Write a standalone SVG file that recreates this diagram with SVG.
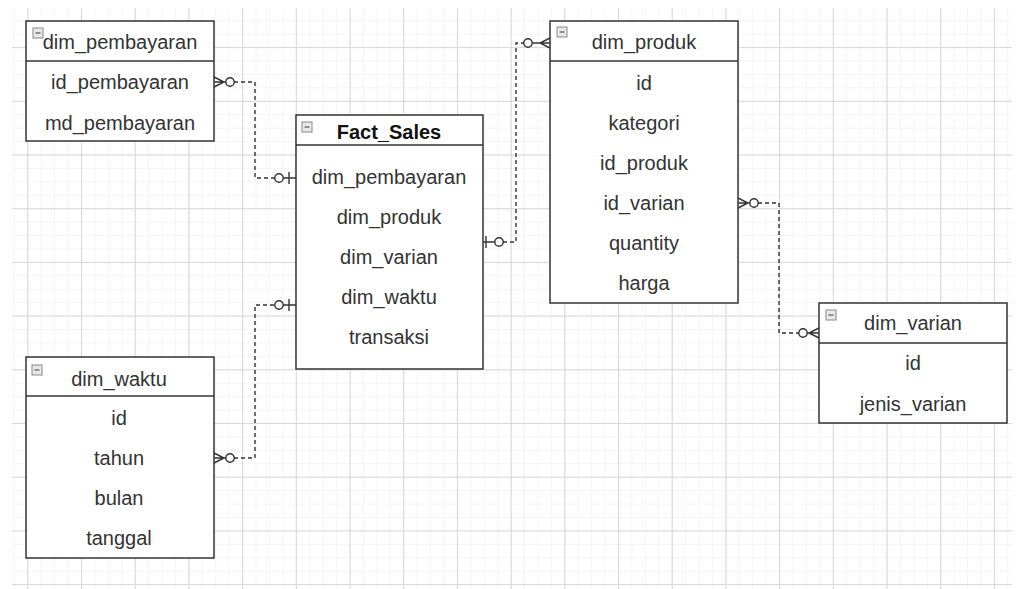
<svg xmlns="http://www.w3.org/2000/svg" width="1021" height="589" viewBox="0 0 1021 589">
<style>
.tbl{fill:#fff;stroke:#333;stroke-width:1.5}
.sep{stroke:#333;stroke-width:1.5}
.t{font-family:"Liberation Sans",Arial,sans-serif;font-size:20px;fill:#333;text-anchor:middle;dominant-baseline:central}
.b{font-weight:bold;fill:#111}
.ico{fill:#e8e8e8;stroke:#888;stroke-width:1}
.icl{stroke:#555;stroke-width:1.2}
.dash{fill:none;stroke:#333;stroke-width:1.4;stroke-dasharray:4 3}
.sym{fill:none;stroke:#333;stroke-width:1.4}
.circ{fill:#fff;stroke:#333;stroke-width:1.4}
</style>
<defs>
<pattern id="minor" patternUnits="userSpaceOnUse" x="27.3" y="47.1" width="13.425" height="13.425">
<path d="M0 0.5H13.425M0.5 0V13.425" stroke="#f4f4f4" stroke-width="1" fill="none"/>
</pattern>
<pattern id="major" patternUnits="userSpaceOnUse" x="27.3" y="47.1" width="53.7" height="53.7">
<path d="M0 0.5H53.7M0.5 0V53.7" stroke="#d8d8d8" stroke-width="1.2" fill="none"/>
</pattern>
<g id="icon"><rect class="ico" x="0" y="0" width="10" height="10"/><path class="icl" d="M2.5 5H7.5"/></g>
</defs>
<rect width="1021" height="589" fill="#fff"/>
<rect x="12" y="8" width="1000" height="581" fill="url(#minor)"/>
<rect x="12" y="8" width="1000" height="581" fill="url(#major)"/>

<g id="connectors">
<path class="dash" d="M234 82H255V178H275"/>
<path class="sym" d="M214 77L224 82L214 87M214 82H226"/>
<circle class="circ" cx="230" cy="82" r="4.2"/>
<path class="sym" d="M283 178H296M289 172V184"/>
<circle class="circ" cx="279" cy="178" r="4.2"/>
<path class="dash" d="M234 458H255V305H275"/>
<path class="sym" d="M214 453L224 458L214 463M214 458H226"/>
<circle class="circ" cx="230" cy="458" r="4.2"/>
<path class="sym" d="M283 305H296M289 299V311"/>
<circle class="circ" cx="279" cy="305" r="4.2"/>
<path class="dash" d="M503 242H516V43H524"/>
<path class="sym" d="M483 242H495M486 236V248"/>
<circle class="circ" cx="499" cy="242" r="4.2"/>
<path class="sym" d="M550 38L540 43L550 48M550 43H532"/>
<circle class="circ" cx="528" cy="43" r="4.2"/>
<path class="dash" d="M758 203H779V333H799"/>
<path class="sym" d="M738 198L748 203L738 208M738 203H750"/>
<circle class="circ" cx="754" cy="203" r="4.2"/>
<path class="sym" d="M819 328L809 333L819 338M819 333H807"/>
<circle class="circ" cx="803" cy="333" r="4.2"/>
</g>

<g id="dim_pembayaran">
<rect class="tbl" x="26" y="21" width="188" height="120"/>
<line class="sep" x1="26" y1="61" x2="214" y2="61"/>
<use href="#icon" x="33" y="28"/>
<text class="t" x="120" y="42">dim_pembayaran</text>
<text class="t" x="120" y="82">id_pembayaran</text>
<text class="t" x="120" y="123">md_pembayaran</text>
</g>

<g id="Fact_Sales">
<rect class="tbl" x="296" y="115" width="187" height="254"/>
<line class="sep" x1="296" y1="145" x2="483" y2="145"/>
<use href="#icon" x="302" y="122"/>
<text class="t b" x="389" y="132">Fact_Sales</text>
<text class="t" x="389" y="177">dim_pembayaran</text>
<text class="t" x="389" y="217">dim_produk</text>
<text class="t" x="389" y="257">dim_varian</text>
<text class="t" x="389" y="297">dim_waktu</text>
<text class="t" x="389" y="337">transaksi</text>
</g>

<g id="dim_produk">
<rect class="tbl" x="550" y="21" width="188" height="282"/>
<line class="sep" x1="550" y1="61" x2="738" y2="61"/>
<use href="#icon" x="557" y="27"/>
<text class="t" x="644" y="42">dim_produk</text>
<text class="t" x="644" y="83">id</text>
<text class="t" x="644" y="123">kategori</text>
<text class="t" x="644" y="163">id_produk</text>
<text class="t" x="644" y="203">id_varian</text>
<text class="t" x="644" y="243">quantity</text>
<text class="t" x="644" y="283">harga</text>
</g>

<g id="dim_varian">
<rect class="tbl" x="819" y="303" width="188" height="120"/>
<line class="sep" x1="819" y1="343" x2="1007" y2="343"/>
<use href="#icon" x="826" y="310"/>
<text class="t" x="913" y="323">dim_varian</text>
<text class="t" x="913" y="363">id</text>
<text class="t" x="913" y="404">jenis_varian</text>
</g>

<g id="dim_waktu">
<rect class="tbl" x="26" y="357" width="188" height="201"/>
<line class="sep" x1="26" y1="396" x2="214" y2="396"/>
<use href="#icon" x="32" y="365"/>
<text class="t" x="119" y="379">dim_waktu</text>
<text class="t" x="119" y="418">id</text>
<text class="t" x="119" y="458">tahun</text>
<text class="t" x="119" y="498">bulan</text>
<text class="t" x="119" y="538">tanggal</text>
</g>
</svg>
